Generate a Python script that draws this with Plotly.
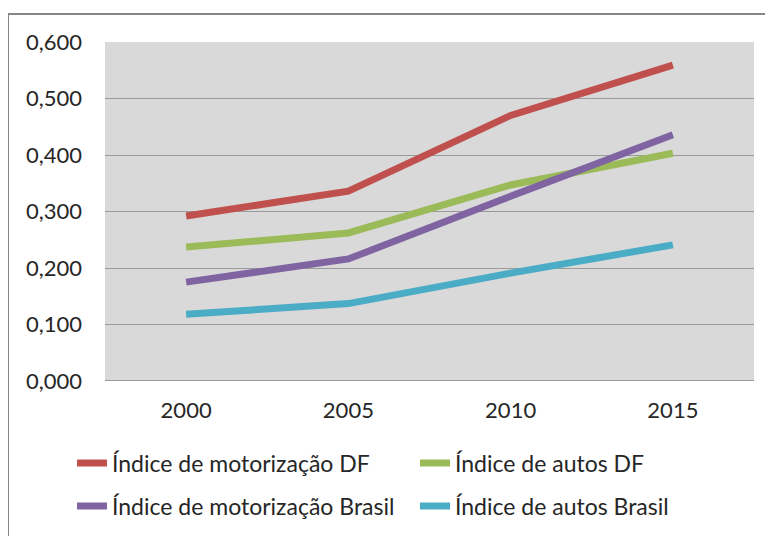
import plotly.graph_objects as go

years = ["2000", "2005", "2010", "2015"]
motor_df = [0.292, 0.336, 0.470, 0.559]
autos_df = [0.237, 0.262, 0.347, 0.403]
motor_br = [0.175, 0.216, 0.327, 0.436]
autos_br = [0.118, 0.137, 0.191, 0.241]
names = ["Índice de motorização DF", "Índice de autos DF",
         "Índice de motorização Brasil", "Índice de autos Brasil"]
colors = ["#C0504D", "#9BBB59", "#8064A2", "#4BACC6"]
y_ticks = [0.0, 0.1, 0.2, 0.3, 0.4, 0.5, 0.6]

OFF = 8  # default page body margin
W, H = 773 - OFF, 536 - OFF
L, T = 105 - OFF, 42 - OFF
R = W - (754 - OFF)
B = H - (381 - OFF)
pw, ph = W - L - R, H - T - B

def px_x(x):
    return (x - OFF - L) / pw

def px_y(y):
    return (H - B - (y - OFF)) / ph

fig = go.Figure()
series = [motor_df, autos_df, motor_br, autos_br]
legend_ids = ["legend", "legend2", "legend3", "legend4"]
for s, n, c, lg in zip(series, names, colors, legend_ids):
    fig.add_trace(go.Scatter(x=years, y=s, name=n, mode="lines",
                             line=dict(color=c, width=7), legend=lg))

font = dict(family="Lato, Open Sans, sans-serif", size=22, color="#262626")
leg_font = dict(family="Lato, Open Sans, sans-serif", size=23, color="#262626")

# legend positions (page pixel coords of item start, row centre)
leg_pos = [(72, 463), (415, 463), (72, 506), (415, 506)]
leg_layout = {}
for lg, (lx, ly) in zip(legend_ids, leg_pos):
    leg_layout[lg] = dict(x=px_x(lx), y=px_y(ly), xanchor="left", yanchor="middle",
                          orientation="h", bgcolor="rgba(0,0,0,0)",
                          font=leg_font, itemwidth=30)

fig.update_layout(
    width=W, height=H,
    margin=dict(l=L, r=R, t=T, b=B, autoexpand=False),
    paper_bgcolor="white",
    plot_bgcolor="#D9D9D9",
    separators=",.",
    showlegend=True,
    font=font,
    xaxis=dict(type="category", range=[-0.5, 3.5], showgrid=False,
               showline=False, ticks="", tickfont=font, ticklabelstandoff=14,
               zeroline=False),
    yaxis=dict(range=[0, 0.6], tickvals=y_ticks, tickformat=".3f",
               showgrid=True, gridcolor="#9A9A9A", gridwidth=1,
               zeroline=False, showline=False, ticks="", tickfont=font,
               ticklabelstandoff=22),
    shapes=[
        dict(type="rect", xref="paper", yref="paper",
             x0=px_x(8), x1=px_x(800), y0=px_y(560), y1=px_y(14),
             line=dict(color="#868686", width=2), fillcolor="rgba(0,0,0,0)",
             layer="below"),
        dict(type="line", xref="paper", yref="y", x0=0, x1=1, y0=0, y1=0,
             line=dict(color="#9A9A9A", width=2), layer="below"),
    ],
    **leg_layout,
)

fig.write_html("out.html")
